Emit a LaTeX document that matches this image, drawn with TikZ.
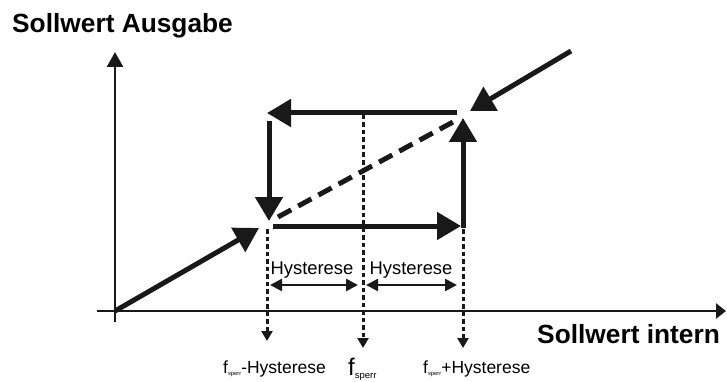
\documentclass[tikz,border=0pt]{standalone}
\usepackage{fontspec}
\setmainfont{Liberation Sans}
\usetikzlibrary{arrows.meta}
\begin{document}
\begin{tikzpicture}[x=1pt,y=-1pt,
  axisline/.style={line width=2.6pt,draw=black!90},
  bigarrow/.style={line width=5pt,draw=black!90,-{Triangle[length=24pt,width=27pt]}},
  dottedline/.style={line width=3pt,draw=black!90,dash pattern=on 4.5pt off 3pt,-{Triangle[length=10pt,width=11pt]}},
  hyst/.style={line width=2.6pt,draw=black!90,{Triangle[length=12pt,width=12pt]}-{Triangle[length=12pt,width=12pt]}},
  biglabel/.style={font=\fontsize{26.3}{31}\selectfont\bfseries,inner sep=0pt},
  smalllabel/.style={font=\fontsize{18.4}{21}\selectfont,inner sep=0pt}]
\useasboundingbox (0,0) rectangle (727,382);

% key points
\coordinate (O) at (115,311);
\coordinate (Ybot) at (115,322);
\coordinate (Ytop) at (115,52);
\coordinate (Xleft) at (97,311);
\coordinate (Xright) at (726,311);
\coordinate (Diag) at (259,228);
\coordinate (LVs) at (269,121);
\coordinate (LVe) at (269,221);
\coordinate (THs) at (457,113);
\coordinate (THe) at (267,113);
\coordinate (BHs) at (273,226);
\coordinate (BHe) at (461,226);
\coordinate (RVs) at (463,228);
\coordinate (RVe) at (463,118);
\coordinate (DAs) at (278,217);
\coordinate (DAe) at (453,122);
\coordinate (TRs) at (571,51);
\coordinate (TRe) at (470,111);
\coordinate (D1s) at (267,229);
\coordinate (D1e) at (267,341);
\coordinate (D2s) at (363,115);
\coordinate (D2e) at (363,348);
\coordinate (D3s) at (463,229);
\coordinate (D3e) at (463,348);
\coordinate (H1s) at (270,285);
\coordinate (H1e) at (358,285);
\coordinate (H2s) at (366,285);
\coordinate (H2e) at (457,285);

% axes
\draw[axisline,-{Triangle[length=15pt,width=16pt]}] (Ybot) -- (Ytop);
\draw[axisline,-{Triangle[length=10pt,width=15pt]}] (Xleft) -- (Xright);

% dotted guide lines
\draw[dottedline] (D1s) -- (D1e);
\draw[dottedline] (D2s) -- (D2e);
\draw[dottedline] (D3s) -- (D3e);

% thick arrows
\draw[bigarrow] (O) -- (Diag);
\draw[bigarrow] (LVs) -- (LVe);
\draw[bigarrow] (THs) -- (THe);
\draw[bigarrow] (BHs) -- (BHe);
\draw[bigarrow] (RVs) -- (RVe);
\draw[bigarrow] (TRs) -- (TRe);
\draw[line width=5pt,draw=black!90,dash pattern=on 15pt off 8pt] (DAs) -- (DAe);

% hysteresis arrows
\draw[hyst] (H1s) -- (H1e);
\draw[hyst] (H2s) -- (H2e);
\node[smalllabel] (hl) at (312,270) {Hysterese};
\node[smalllabel] (hr) at (411,270) {Hysterese};

% labels
\node[biglabel,anchor=base west] (ylab) at (12,33) {Sollwert Ausgabe};
\node[biglabel,anchor=base west] (xlab) at (537,343) {Sollwert intern};
\node[anchor=base west,inner sep=0pt] (fm) at (223,373)
  {\fontsize{17.5}{20}\selectfont f\raisebox{-2.5pt}{\fontsize{5.8}{6}\selectfont sperr}-Hysterese};
\node[anchor=base west,inner sep=0pt] (fc) at (348,375)
  {\fontsize{24}{28}\selectfont f\raisebox{-3pt}{\fontsize{9.5}{10}\selectfont sperr}};
\node[anchor=base west,inner sep=0pt] (fp) at (423,373)
  {\fontsize{17.5}{20}\selectfont f\raisebox{-2.5pt}{\fontsize{5.8}{6}\selectfont sperr}+Hysterese};
\end{tikzpicture}
\end{document}
